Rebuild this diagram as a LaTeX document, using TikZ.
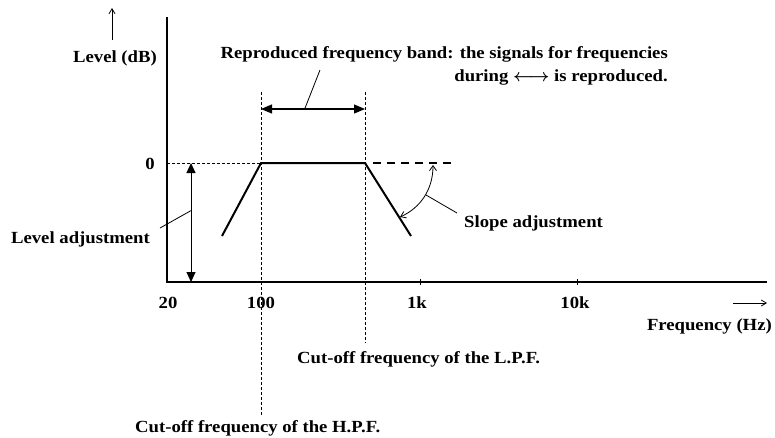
\documentclass[tikz,border=0pt]{standalone}
\usepackage{fontspec}
\setmainfont{Liberation Serif}[FakeStretch=1.1]
\usetikzlibrary{arrows.meta}

\begin{document}
\begin{tikzpicture}[x=1pt, y=-1pt, font=\fontsize{17}{23}\selectfont\bfseries,
		lbl/.style={inner sep=0pt},
		guide/.style={line width=0.6pt, dash pattern=on 3pt off 2pt},
		curve/.style={line width=2pt},
		axis/.style={line width=1.6pt},
		dimarrow/.style={line width=1.2pt, {Triangle[length=11pt,width=9pt]}-{Triangle[length=11pt,width=9pt]}},
		thinarrow/.style={line width=0.8pt, -{Straight Barb[length=5pt,width=6pt]}}]
	\useasboundingbox (0,0) rectangle (775,437);
	% axes
	\coordinate (origin) at (167,282);
	\coordinate (ytop) at (167,17);
	\coordinate (xend) at (767,282);
	\draw[axis] (ytop) -- (origin) -- (xend);
	\foreach \x in {420, 577}
		\draw[line width=0.8pt] (\x,279) -- (\x,285);
	\node[lbl, anchor=base] (levlbl) at (115,62) {Level (dB)};
	\coordinate (levtail) at (112,40);
	\draw[thinarrow] (levtail) -- ++(0,-32);
	\node[lbl, anchor=base east] (zero) at (155,169) {0};
	\node[lbl, anchor=base] (t20) at (168,308) {20};
	\node[lbl, anchor=base] (t100) at (261,308) {100};
	\node[lbl, anchor=base] (t1k) at (417,308) {1k};
	\node[lbl, anchor=base] (t10k) at (575,308) {10k};
	\node[lbl, anchor=base east] (freqlbl) at (772,330) {Frequency (Hz)};
	\coordinate (freqtail) at (733,303);
	\draw[thinarrow] (freqtail) -- ++(34,0);
	% pass band
	\coordinate (hpf) at (261,163);
	\coordinate (lpf) at (365,163);
	\coordinate (hpflow) at (222,236);
	\coordinate (lpflow) at (411,236);
	\coordinate (flatend) at (455,163);
	\draw[guide] (origin |- hpf) -- (hpf);
	\draw[guide] (261,92) -- (261,415);
	\draw[guide] (365,92) -- (365,343);
	\draw[curve, line join=miter] (hpflow) -- (hpf) -- (lpf) -- (lpflow);
	\draw[curve, dash pattern=on 8pt off 6pt] (lpf) ++(8,0) -- (flatend);
	% reproduced band
	\coordinate (bandL) at (261,109);
	\coordinate (bandR) at (365,109);
	\draw[dimarrow] (bandL) -- coordinate[pos=0.42] (bandmid) (bandR);
	\node[lbl, anchor=north east, align=right] (bandlbl) at (668,46)
		{Reproduced frequency band: the signals for frequencies\\
		 during {\boldmath$\longleftrightarrow$} is reproduced.};
	\draw[line width=0.8pt] (bandmid) -- (320,70);
	% level adjustment
	\coordinate (lvltop) at (191,163);
	\coordinate (lvlbot) at (191,282);
	\draw[dimarrow, line width=1pt, {Triangle[length=10pt,width=9pt]}-{Triangle[length=10pt,width=9pt]}] (lvltop) -- coordinate[pos=0.4] (lvlmid) (lvlbot);
	\node[lbl, anchor=base east] (lvladj) at (150,243) {Level adjustment};
	\draw[line width=0.8pt] (lvlmid) -- (160,228);
	% slope adjustment
	\coordinate (slopeA) at (400,217);
	\coordinate (slopeB) at (433,165);
	\draw[line width=0.8pt, {Straight Barb[length=5pt,width=7pt]}-{Straight Barb[length=5pt,width=7pt]}]
		(slopeA) .. controls (420,208) and (433,190) .. (slopeB);
	\node[lbl, anchor=base west] (slopelbl) at (464,227) {Slope adjustment};
	\draw[line width=0.8pt] (426,195) -- (457,213);
	% cut-off labels
	\node[lbl, anchor=base west] (lpflbl) at (297,363) {Cut-off frequency of the L.P.F.};
	\node[lbl, anchor=base west] (hpflbl) at (135,432) {Cut-off frequency of the H.P.F.};
\end{tikzpicture}
\end{document}
